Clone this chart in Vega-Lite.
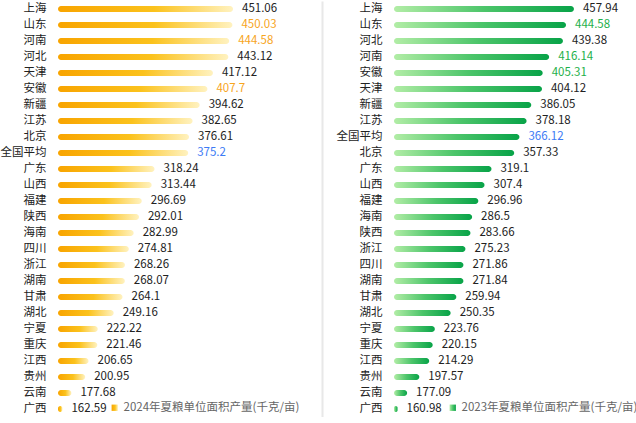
{
  "$schema": "https://vega.github.io/schema/vega-lite/v6.json",
  "padding": {"left": 0, "top": 1, "right": 0, "bottom": 0},
  "background": "white",
  "spacing": 14,
  "config": {
    "view": {"stroke": null},
    "font": "Noto Sans CJK SC"
  },
  "resolve": {"scale": {"x": "independent", "y": "independent", "color": "independent", "stroke": "independent"}},
  "datasets": {
    "y2024": [
      {"prov": "上海", "v": 451.06, "hl": "n"},
      {"prov": "山东", "v": 450.03, "hl": "h"},
      {"prov": "河南", "v": 444.58, "hl": "h"},
      {"prov": "河北", "v": 443.12, "hl": "n"},
      {"prov": "天津", "v": 417.12, "hl": "n"},
      {"prov": "安徽", "v": 407.7, "hl": "h"},
      {"prov": "新疆", "v": 394.62, "hl": "n"},
      {"prov": "江苏", "v": 382.65, "hl": "n"},
      {"prov": "北京", "v": 376.61, "hl": "n"},
      {"prov": "全国平均", "v": 375.2, "hl": "a"},
      {"prov": "广东", "v": 318.24, "hl": "n"},
      {"prov": "山西", "v": 313.44, "hl": "n"},
      {"prov": "福建", "v": 296.69, "hl": "n"},
      {"prov": "陕西", "v": 292.01, "hl": "n"},
      {"prov": "海南", "v": 282.99, "hl": "n"},
      {"prov": "四川", "v": 274.81, "hl": "n"},
      {"prov": "浙江", "v": 268.26, "hl": "n"},
      {"prov": "湖南", "v": 268.07, "hl": "n"},
      {"prov": "甘肃", "v": 264.1, "hl": "n"},
      {"prov": "湖北", "v": 249.16, "hl": "n"},
      {"prov": "宁夏", "v": 222.22, "hl": "n"},
      {"prov": "重庆", "v": 221.46, "hl": "n"},
      {"prov": "江西", "v": 206.65, "hl": "n"},
      {"prov": "贵州", "v": 200.95, "hl": "n"},
      {"prov": "云南", "v": 177.68, "hl": "n"},
      {"prov": "广西", "v": 162.59, "hl": "n"}
    ],
    "y2023": [
      {"prov": "上海", "v": 457.94, "hl": "n"},
      {"prov": "山东", "v": 444.58, "hl": "h"},
      {"prov": "河北", "v": 439.38, "hl": "n"},
      {"prov": "河南", "v": 416.14, "hl": "h"},
      {"prov": "安徽", "v": 405.31, "hl": "h"},
      {"prov": "天津", "v": 404.12, "hl": "n"},
      {"prov": "新疆", "v": 386.05, "hl": "n"},
      {"prov": "江苏", "v": 378.18, "hl": "n"},
      {"prov": "全国平均", "v": 366.12, "hl": "a"},
      {"prov": "北京", "v": 357.33, "hl": "n"},
      {"prov": "广东", "v": 319.1, "hl": "n"},
      {"prov": "山西", "v": 307.4, "hl": "n"},
      {"prov": "福建", "v": 296.96, "hl": "n"},
      {"prov": "海南", "v": 286.5, "hl": "n"},
      {"prov": "陕西", "v": 283.66, "hl": "n"},
      {"prov": "浙江", "v": 275.23, "hl": "n"},
      {"prov": "四川", "v": 271.86, "hl": "n"},
      {"prov": "湖南", "v": 271.84, "hl": "n"},
      {"prov": "甘肃", "v": 259.94, "hl": "n"},
      {"prov": "湖北", "v": 250.35, "hl": "n"},
      {"prov": "宁夏", "v": 223.76, "hl": "n"},
      {"prov": "重庆", "v": 220.15, "hl": "n"},
      {"prov": "江西", "v": 214.29, "hl": "n"},
      {"prov": "贵州", "v": 197.57, "hl": "n"},
      {"prov": "云南", "v": 177.09, "hl": "n"},
      {"prov": "广西", "v": 160.98, "hl": "n"}
    ]
  },
  "hconcat": [
    {
      "width": 264,
      "height": 416,
      "data": {"name": "y2024"},
      "resolve": {"axis": {"y": "independent"}},
      "layer": [
        {
          "mark": {
            "type": "bar",
            "size": 6,
            "cornerRadius": 3,
            "strokeWidth": 0,
            "fill": {
              "gradient": "linear",
              "x1": 0, "y1": 0, "x2": 1, "y2": 0,
              "stops": [
                {"offset": 0, "color": "#F8A400"},
                {"offset": 0.55, "color": "#FBC21C"},
                {"offset": 1, "color": "#FFF2C0"}
              ]
            }
          },
          "encoding": {
            "y": {
              "field": "prov", "type": "nominal",
              "sort": {"field": "v", "order": "descending"},
              "scale": {"paddingInner": 0, "paddingOuter": 0},
              "axis": {"title": null, "ticks": false, "domain": false, "labelPadding": 12, "labelFontSize": 11.5, "labelColor": "#222222"}
            },
            "x": {
              "field": "v", "type": "quantitative",
              "scale": {"domain": [155, 601.6], "zero": false, "nice": false},
              "axis": null
            },
            "x2": {"datum": 155},
            "stroke": {
              "datum": "2024年夏粮单位面积产量(千克/亩)", "type": "nominal",
              "scale": {"range": ["#F9B000"]},
              "legend": {
                "title": null, "orient": "none", "legendX": 51, "legendY": 401,
                "symbolType": "square", "symbolSize": 40, "symbolStrokeWidth": 0,
                "labelFontSize": 11.5, "labelColor": "#666666", "labelOffset": 3, "labelLimit": 300
              }
            }
          }
        },
        {
          "mark": {"type": "text", "align": "left", "baseline": "middle", "dx": 9, "fontSize": 11.5},
          "encoding": {
            "y": {
              "field": "prov", "type": "nominal",
              "sort": {"field": "v", "order": "descending"},
              "axis": {"orient": "right", "title": null, "labels": false, "ticks": false, "domain": true, "domainColor": "#e8e8e8", "domainWidth": 2}
            },
            "x": {"field": "v", "type": "quantitative"},
            "text": {"field": "v", "type": "nominal"},
            "color": {
              "field": "hl", "type": "nominal",
              "scale": {"domain": ["n", "h", "a"], "range": ["#222222", "#F7A51D", "#3D7BF5"]},
              "legend": null
            }
          }
        }
      ]
    },
    {
      "width": 241,
      "height": 416,
      "data": {"name": "y2023"},
      "layer": [
        {
          "mark": {
            "type": "bar",
            "size": 6,
            "cornerRadius": 3,
            "strokeWidth": 0,
            "fill": {
              "gradient": "linear",
              "x1": 0, "y1": 0, "x2": 1, "y2": 0,
              "stops": [
                {"offset": 0, "color": "#B2EDA6"},
                {"offset": 0.5, "color": "#4CC56A"},
                {"offset": 1, "color": "#08A348"}
              ]
            }
          },
          "encoding": {
            "y": {
              "field": "prov", "type": "nominal",
              "sort": {"field": "v", "order": "descending"},
              "scale": {"paddingInner": 0, "paddingOuter": 0},
              "axis": {"title": null, "ticks": false, "domain": false, "labelPadding": 12, "labelFontSize": 11.5, "labelColor": "#222222"}
            },
            "x": {
              "field": "v", "type": "quantitative",
              "scale": {"domain": [155, 560.7], "zero": false, "nice": false},
              "axis": null
            },
            "x2": {"datum": 155},
            "stroke": {
              "datum": "2023年夏粮单位面积产量(千克/亩)", "type": "nominal",
              "scale": {"range": ["#22B04B"]},
              "legend": {
                "title": null, "orient": "none", "legendX": 53, "legendY": 401,
                "symbolType": "square", "symbolSize": 40, "symbolStrokeWidth": 0,
                "labelFontSize": 11.5, "labelColor": "#666666", "labelOffset": 3, "labelLimit": 300
              }
            }
          }
        },
        {
          "mark": {"type": "text", "align": "left", "baseline": "middle", "dx": 9, "fontSize": 11.5},
          "encoding": {
            "y": {"field": "prov", "type": "nominal", "sort": {"field": "v", "order": "descending"}},
            "x": {"field": "v", "type": "quantitative"},
            "text": {"field": "v", "type": "nominal"},
            "color": {
              "field": "hl", "type": "nominal",
              "scale": {"domain": ["n", "h", "a"], "range": ["#222222", "#1EB04A", "#3D7BF5"]},
              "legend": null
            }
          }
        }
      ]
    }
  ]
}
